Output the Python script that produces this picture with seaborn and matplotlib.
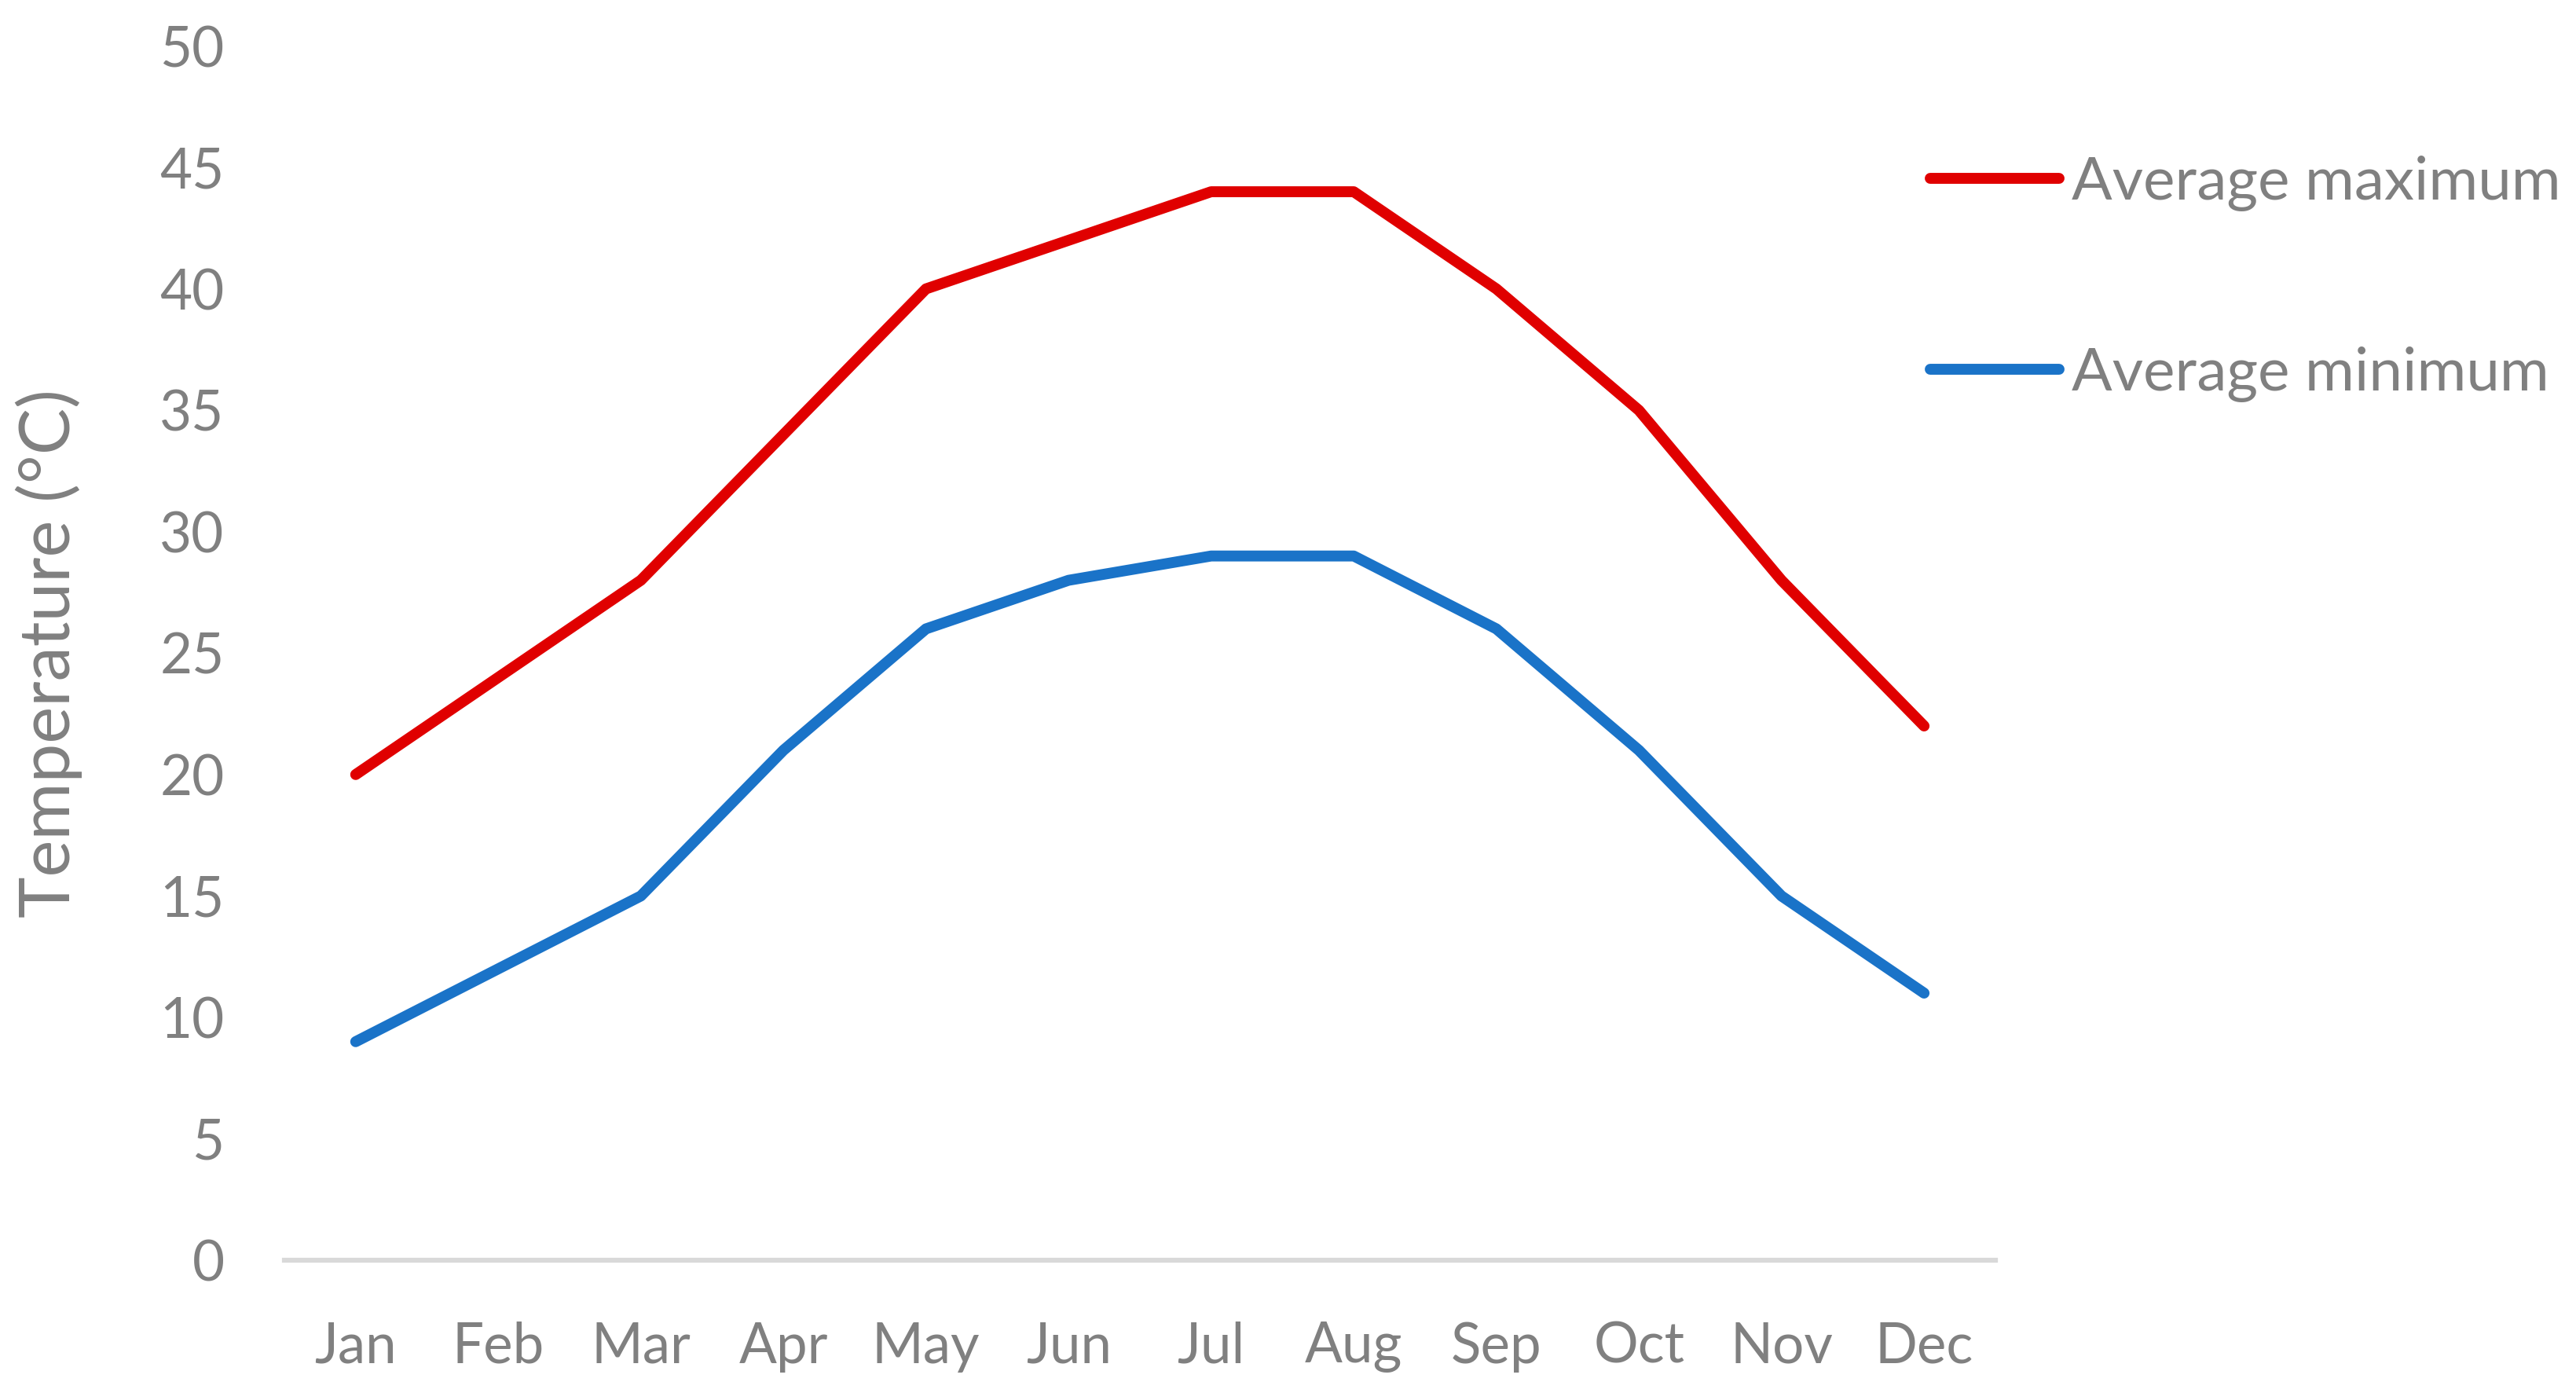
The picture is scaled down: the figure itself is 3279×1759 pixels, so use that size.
import matplotlib
matplotlib.use("Agg")
import matplotlib.pyplot as plt
import seaborn as sns
import pandas as pd

months = ["Jan", "Feb", "Mar", "Apr", "May", "Jun", "Jul", "Aug", "Sep", "Oct", "Nov", "Dec"]
avg_max = [20, 24, 28, 34, 40, 42, 44, 44, 40, 35, 28, 22]
avg_min = [9, 12, 15, 21, 26, 28, 29, 29, 26, 21, 15, 11]
series_names = ["Average maximum", "Average minimum"]
y_ticks = [0, 5, 10, 15, 20, 25, 30, 35, 40, 45, 50]

df = pd.DataFrame({
    "Month": months * 2,
    "x": list(range(len(months))) * 2,
    "Temperature": avg_max + avg_min,
    "Series": [series_names[0]] * len(months) + [series_names[1]] * len(months),
})

sns.set_theme(style="white")
plt.rcParams["font.family"] = ["Lato", "DejaVu Sans"]

fig = plt.figure(figsize=(32.79, 17.59), dpi=100)
ax = fig.add_axes([0.1104, 0.0881, 0.6642, 0.8786])

palette = {series_names[0]: "#E00000", series_names[1]: "#1A73C8"}
sns.lineplot(data=df, x="x", y="Temperature", hue="Series", palette=palette,
             linewidth=10, ax=ax, solid_capstyle="round", legend=True)

ax.set_xlim(-0.5, len(months) - 0.5)
ax.set_ylim(0, 50)
ax.set_xticks(range(len(months)))
ax.set_xticklabels(months)
ax.set_yticks(y_ticks)
ax.set_xlabel("")
ax.set_ylabel("Temperature (°C)", fontsize=64, color="#808080")
ax.yaxis.set_label_coords(-0.118, 0.5)

for s in ["top", "right", "left"]:
    ax.spines[s].set_visible(False)
ax.spines["bottom"].set_color("#D9D9D9")
ax.spines["bottom"].set_linewidth(4.5)
ax.tick_params(axis="both", length=0, labelsize=51, labelcolor="#808080")
ax.tick_params(axis="y", pad=55)
ax.tick_params(axis="x", pad=56)

handles, labels = ax.get_legend_handles_labels()
leg = ax.legend(handles, labels, loc="upper left", bbox_to_anchor=(0.962, 0.910),
                frameon=False, fontsize=55, handlelength=2.15, handletextpad=0.2,
                labelspacing=2.25, borderaxespad=0, borderpad=0)
for t in leg.get_texts():
    t.set_color("#808080")
for h in leg.get_lines():
    h.set_linewidth(10)
    h.set_solid_capstyle("round")

fig.savefig("out.png", dpi=100)
